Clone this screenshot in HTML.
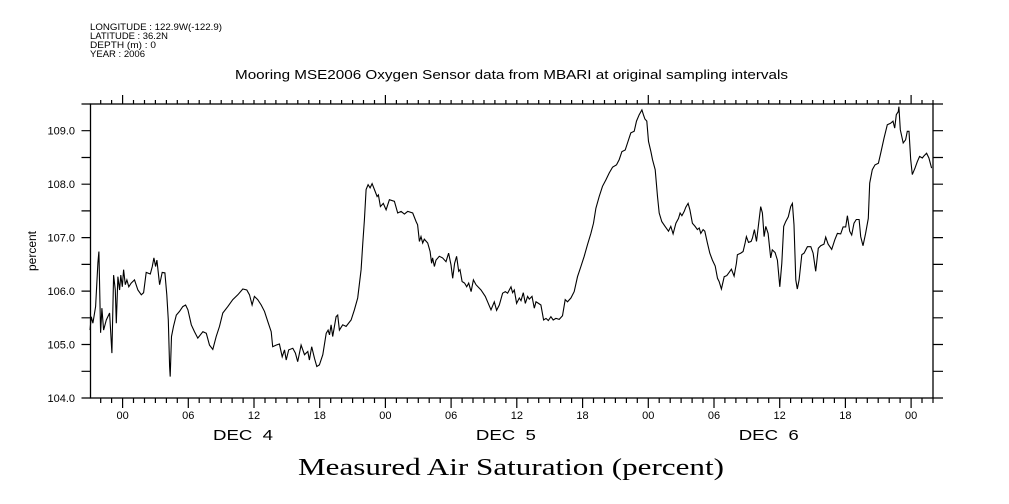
<!DOCTYPE html>
<html><head><meta charset="utf-8">
<style>
html,body{margin:0;padding:0;background:#fff;}
svg{display:block;}
text{font-family:"Liberation Sans",sans-serif;fill:#000;}
</style></head>
<body>
<svg id="chart" width="1009" height="504" viewBox="0 0 1009 504">
  <g font-size="9">
    <text x="90" y="30" textLength="132" lengthAdjust="spacingAndGlyphs">LONGITUDE : 122.9W(-122.9)</text>
    <text x="90" y="39" textLength="78" lengthAdjust="spacingAndGlyphs">LATITUDE : 36.2N</text>
    <text x="90" y="48" textLength="66" lengthAdjust="spacingAndGlyphs">DEPTH (m) : 0</text>
    <text x="90" y="57" textLength="55" lengthAdjust="spacingAndGlyphs">YEAR : 2006</text>
  </g>
  <text x="235" y="79" textLength="553" lengthAdjust="spacingAndGlyphs" font-size="13">Mooring MSE2006 Oxygen Sensor data from MBARI at original sampling intervals</text>
  <text transform="translate(36,251) rotate(-90)" text-anchor="middle" font-size="12">percent</text>
  <text x="298" y="475" textLength="426" lengthAdjust="spacingAndGlyphs" font-size="24" style="font-family:'Liberation Serif',serif">Measured Air Saturation (percent)</text>
  <g id="axes"></g>
  <g id="series"></g>
</svg>
<script>
const hours = [-2.98,-2.86,-2.71,-2.46,-2.25,-2.16,-2.01,-1.89,-1.73,-1.49,-1.19,-0.98,-0.82,-0.67,-0.57,-0.43,-0.27,-0.16,-0.03,0.09,0.25,0.39,0.57,0.79,1.09,1.40,1.71,1.92,2.16,2.53,2.71,2.86,3.01,3.13,3.38,3.62,3.86,4.04,4.17,4.29,4.35,4.47,4.65,4.90,5.20,5.50,5.75,5.96,6.27,6.57,6.87,7.33,7.64,7.94,8.24,8.55,8.85,9.15,9.61,10.06,10.52,10.98,11.34,11.59,11.83,12.04,12.34,12.66,12.96,13.26,13.57,13.71,14.02,14.32,14.57,14.78,14.94,15.17,15.54,15.78,15.99,16.30,16.61,16.91,17.06,17.27,17.52,17.73,17.97,18.28,18.59,18.77,18.89,19.04,19.19,19.50,19.64,19.80,20.10,20.41,20.87,21.17,21.47,21.78,21.93,22.08,22.24,22.42,22.60,22.78,22.99,23.24,23.36,23.54,23.81,24.06,24.36,24.82,25.12,25.43,25.73,26.03,
26.49,26.80,26.94,27.10,27.25,27.40,27.55,27.86,28.08,28.22,28.31,28.47,28.62,28.92,29.22,29.53,29.77,29.99,30.14,30.32,30.50,30.69,30.81,31.00,31.23,31.42,31.60,31.82,32.03,32.27,32.73,33.12,33.33,33.64,33.94,34.15,34.40,34.70,34.95,35.16,35.47,35.61,35.77,35.98,36.22,36.38,36.59,36.77,36.98,37.14,37.38,37.59,37.75,37.98,38.20,38.44,38.66,38.87,39.11,39.32,39.57,39.87,40.17,40.42,40.63,40.94,41.24,41.54,41.85,42.15,42.45,42.76,43.00,43.22,43.52,43.82,44.13,44.43,44.74,45.10,45.35,45.59,45.89,46.10,46.41,46.72,46.93,47.17,47.42,47.56,47.69,47.87,48.02,48.24,48.39,48.63,48.84,49.00,
49.24,49.54,49.85,50.06,50.27,50.52,50.76,50.91,51.07,51.28,51.43,51.64,51.80,52.03,52.28,52.49,52.65,52.80,53.01,53.16,53.40,53.62,53.86,54.11,54.32,54.47,54.68,54.93,55.17,55.38,55.59,55.84,56.05,56.14,56.45,56.66,56.84,56.96,57.15,57.39,57.51,57.69,57.88,58.27,58.42,58.58,58.73,58.94,59.18,59.33,59.58,59.79,60.01,60.19,60.37,60.55,60.79,61.01,61.16,61.31,61.47,61.61,61.77,62.02,62.23,62.53,62.84,63.05,63.29,63.53,63.75,64.05,64.20,64.42,64.75,65.03,65.27,65.57,65.79,66.03,66.18,66.39,66.58,66.79,67.00,67.25,67.40,67.61,67.85,68.09,68.22,68.46,68.70,69.01,69.22,69.53,69.83,70.14,70.35,70.50,70.65,70.83,70.89,71.01,71.28,71.50,71.65,71.81,71.96,72.11,72.36,72.57,72.78,73.02,73.18,73.42,73.63,73.87];
const saturation = [105.27,105.52,105.40,105.71,106.53,106.74,105.22,105.68,105.27,105.46,105.59,104.84,106.30,106.02,105.40,106.27,106.02,106.30,106.08,106.40,106.12,106.21,106.08,106.15,106.21,106.02,105.93,105.97,106.35,106.32,106.46,106.62,106.46,106.58,106.12,106.35,106.34,105.93,105.46,104.59,104.40,105.15,105.34,105.55,105.62,105.71,105.74,105.65,105.37,105.24,105.12,105.24,105.21,104.99,104.91,105.15,105.34,105.59,105.71,105.84,105.93,106.04,106.02,105.93,105.74,105.90,105.84,105.74,105.62,105.43,105.24,104.96,104.99,105.01,104.77,104.90,104.71,104.90,104.93,104.84,104.68,104.99,104.81,104.87,104.71,104.96,104.74,104.59,104.62,104.81,105.21,105.27,105.18,105.37,105.15,105.52,105.55,105.27,105.37,105.34,105.46,105.65,105.87,106.40,106.90,107.33,107.90,107.99,107.93,108.01,107.90,107.77,107.80,107.58,107.64,107.52,107.71,107.68,107.46,107.49,107.44,107.49,
107.46,107.30,107.24,106.93,107.02,106.90,106.97,106.90,106.74,106.52,106.62,106.46,106.58,106.65,106.62,106.55,106.71,106.49,106.24,106.52,106.65,106.37,106.40,106.18,106.15,106.08,106.15,105.99,106.21,106.12,106.02,105.90,105.80,105.65,105.80,105.64,105.74,105.96,105.99,105.96,106.08,105.97,106.02,105.77,105.87,105.82,105.97,105.77,105.90,105.85,105.90,105.68,105.80,105.77,105.74,105.46,105.49,105.45,105.52,105.46,105.49,105.47,105.54,105.84,105.80,105.87,105.99,106.27,106.46,106.65,106.87,107.08,107.27,107.55,107.77,107.96,108.08,108.21,108.32,108.36,108.46,108.61,108.64,108.77,108.96,108.99,109.18,109.30,109.39,109.30,109.22,109.18,108.80,108.61,108.46,108.27,107.77,107.46,
107.30,107.21,107.12,107.21,107.07,107.27,107.36,107.46,107.41,107.49,107.57,107.64,107.52,107.27,107.21,107.15,107.18,107.08,107.15,107.12,106.90,106.71,106.58,106.47,106.24,106.18,106.04,106.27,106.29,106.35,106.41,106.28,106.52,106.68,106.71,106.74,106.90,107.02,106.91,106.93,106.99,107.15,106.93,107.58,107.46,107.02,107.21,107.08,106.62,106.77,106.72,106.58,106.08,106.52,107.21,107.30,107.39,107.58,107.64,107.24,106.21,106.04,106.21,106.68,106.71,106.83,106.83,106.71,106.37,106.80,106.85,106.88,107.01,106.88,106.78,106.96,107.08,107.07,107.20,107.20,107.41,107.12,107.05,107.27,107.34,107.34,107.02,106.85,107.08,107.36,108.02,108.27,108.36,108.39,108.58,108.86,109.11,109.14,109.18,109.05,109.30,109.36,109.45,109.02,108.77,108.83,108.99,108.99,108.46,108.18,108.30,108.42,108.52,108.49,108.53,108.58,108.49,108.30];
const yTickValues = [104.0,105.0,106.0,107.0,108.0,109.0];
const xTickHours = [0,6,12,18,24,30,36,42,48,54,60,66,72];
const xTickLabels = ["00","06","12","18","00","06","12","18","00","06","12","18","00"];
const dayLabels = ["DEC  4","DEC  5","DEC  6"];
const dayLabelHours = [11,35,59];

const L=90.5,R=933,T=104,B=398;
const X0=-2.93,X1=74.0,Y0=104,Y1=109.5;
const xs=h=>L+(h-X0)/(X1-X0)*(R-L);
const ys=v=>B-(v-Y0)/(Y1-Y0)*(B-T);
const NS="http://www.w3.org/2000/svg";
const axes=document.getElementById('axes');
const series=document.getElementById('series');
function mk(tag,attrs,parent){const e=document.createElementNS(NS,tag);for(const k in attrs)e.setAttribute(k,attrs[k]);parent.appendChild(e);return e;}

const frame=mk('rect',{x:L,y:T,width:R-L,height:B-T,fill:'none',stroke:'#000','stroke-width':1.3},axes);



let d='';
for(let h=Math.ceil(X0);h<=X1;h++){
  const x=xs(h).toFixed(1);
  const major=(h%6===0);
  d+=`M${x} ${B}V${B+(major?10:5)}`;
  d+=`M${x} ${T}V${T-((h%24===0)?9:4)}`;
}
for(let v=104;v<=109.51;v+=0.5){
  const y=ys(v).toFixed(1);
  d+=`M${L} ${y}H${L-9}`;
  d+=`M${R} ${y}H${R+10}`;
}
const ticks=mk('path',{d:d,stroke:'#000','stroke-width':1.2,fill:'none'},axes);



yTickValues.forEach(v=>{
  const t=mk('text',{x:75,y:ys(v)+4,'text-anchor':'end','font-size':11},axes);
  t.textContent=v.toFixed(1);
  
  
});
xTickHours.forEach((h,i)=>{
  const t=mk('text',{x:xs(h),y:419,'text-anchor':'middle','font-size':11},axes);
  t.textContent=xTickLabels[i];
  
  
});
dayLabelHours.forEach((h,i)=>{
  const t=mk('text',{x:xs(h)-30,y:440,'font-size':15,textLength:60,lengthAdjust:'spacingAndGlyphs'},axes);
  t.textContent=dayLabels[i];
  t.style.whiteSpace='pre';
  
  
});

const pts=hours.map((h,i)=>xs(h).toFixed(1)+','+ys(saturation[i]).toFixed(1)).join(' ');
const line=mk('polyline',{points:pts,fill:'none',stroke:'#000','stroke-width':1.1,'stroke-linejoin':'miter'},series);


</script>
</body></html>
